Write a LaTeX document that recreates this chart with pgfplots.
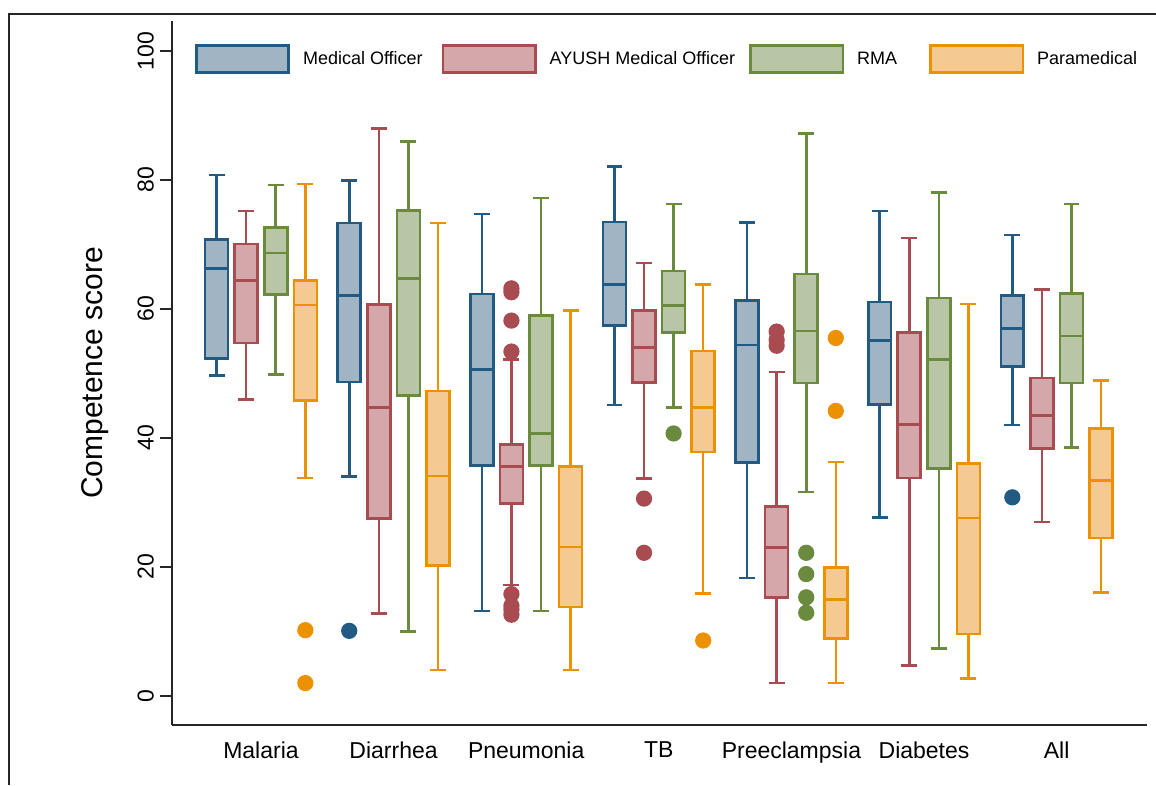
\documentclass[border=0pt]{standalone}
\usepackage{fontspec}
\setmainfont{Liberation Sans}
\usepackage{pgfplots}
\pgfplotsset{compat=1.18}
\usepgfplotslibrary{statistics}
\definecolor{moline}{HTML}{215A82}
\definecolor{mofill}{HTML}{A0B4C4}
\definecolor{ayline}{HTML}{A84C52}
\definecolor{ayfill}{HTML}{D4A8AA}
\definecolor{rmline}{HTML}{6A8A3E}
\definecolor{rmfill}{HTML}{B9C6A6}
\definecolor{paline}{HTML}{EC9200}
\definecolor{pafill}{HTML}{F4C992}
\pgfplotsset{
  boxleg/.style={legend image code/.code={\draw[##1] (0pt,-13.7pt) rectangle (92.4pt,13.7pt);}},
  mo/.style={draw=moline, fill=mofill, line width=2.6pt, mark=*, mark size=6.8pt, mark options={fill=moline, draw=none}},
  ay/.style={draw=ayline, fill=ayfill, line width=2.6pt, mark=*, mark size=6.8pt, mark options={fill=ayline, draw=none}},
  rm/.style={draw=rmline, fill=rmfill, line width=2.6pt, mark=*, mark size=6.8pt, mark options={fill=rmline, draw=none}},
  pa/.style={draw=paline, fill=pafill, line width=2.6pt, mark=*, mark size=6.8pt, mark options={fill=paline, draw=none}},
}
\newcommand{\bx}[7]{%
  \addplot[#1, forget plot, boxplot prepared={draw direction=y, draw position=#2, lower whisker=#3, lower quartile=#4, median=#5, upper quartile=#6, upper whisker=#7}] coordinates {};}
\begin{document}
\begin{tikzpicture}
\useasboundingbox (0pt,0pt) rectangle (1156pt,785pt);
\draw[line width=1.8pt, black!85] (9.3pt,0pt) -- (9.3pt,771.3pt) -- (1160pt,771.3pt);
\begin{axis}[
  at={(172pt,60pt)}, anchor=south west,
  scale only axis, width=974.7pt, height=704pt,
  xmin=0.329, xmax=7.679, ymin=-4.5, ymax=104.65,
  axis x line=bottom, axis y line=left,
  axis line style={-, line width=1.5pt, black!85},
  xtick={1,2,3,4,5,6,7},
  xticklabels={Malaria,Diarrhea,Pneumonia,TB,Preeclampsia,Diabetes,All},
  xtick style={draw=none},
  ytick={0,20,40,60,80,100},
  ytick style={line width=1.5pt, black!85},
  tick align=outside, major tick length=12pt,
  /pgf/number format/assume math mode=true,
  yticklabel shift=6pt,
  yticklabel style={rotate=90, anchor=south, inner sep=0pt, font=\fontsize{23}{26}\selectfont},
  xticklabel style={anchor=north, inner sep=0pt, yshift=-4.5pt, font=\fontsize{23}{26}\selectfont},
  ylabel={Competence score},
  ylabel style={at={(axis description cs:-0.079,0.5)}, anchor=center, inner sep=0pt, font=\fontsize{30}{34}\selectfont},
  boxplot/draw direction=y,
  boxplot/box extend=0.173,
  boxplot/whisker extend=0.12,
  boxplot/every whisker/.append style={line width=2.6pt},
  boxplot/every median/.append style={line width=2.6pt},
  boxplot/every box/.append style={line width=2.6pt},
  legend columns=4,
  legend style={at={(axis description cs:0.0236,0.946)}, anchor=west, draw=none, fill=none, inner sep=0pt, outer sep=0pt,
    font=\fontsize{18}{20}\selectfont, nodes={inner sep=0pt},
    /tikz/every odd column/.append style={column sep=13pt},
    /tikz/column 2/.append style={column sep=19pt},
    /tikz/column 4/.append style={column sep=14pt},
    /tikz/column 6/.append style={column sep=32pt}},
  legend cell align=left,
]
\addlegendimage{mo, boxleg}\addlegendentry{Medical Officer}
\addlegendimage{ay, boxleg}\addlegendentry{AYUSH Medical Officer}
\addlegendimage{rm, boxleg}\addlegendentry{RMA}
\addlegendimage{pa, boxleg}\addlegendentry{Paramedical}
% Malaria
\bx{mo}{0.6655}{49.7}{52.3}{66.3}{70.8}{80.8}
\bx{ay}{0.8885}{46.0}{54.7}{64.4}{70.1}{75.2}
\bx{rm}{1.1115}{49.8}{62.2}{68.7}{72.6}{79.2}
\addplot[pa, forget plot, boxplot prepared={draw direction=y, draw position=1.3345, lower whisker=33.8, lower quartile=45.8, median=60.6, upper quartile=64.4, upper whisker=79.4}] table[row sep=\\, y index=0] {data\\ 10.2\\ 2.0\\};
% Diarrhea
\addplot[mo, forget plot, boxplot prepared={draw direction=y, draw position=1.6655, lower whisker=34.0, lower quartile=48.7, median=62.1, upper quartile=73.3, upper whisker=79.9}] table[row sep=\\, y index=0] {data\\ 10.1\\};
\bx{ay}{1.8885}{12.8}{27.5}{44.7}{60.7}{88.0}
\bx{rm}{2.1115}{10.0}{46.6}{64.7}{75.3}{86.0}
\bx{pa}{2.3345}{4.0}{20.2}{34.1}{47.3}{73.3}
% Pneumonia
\bx{mo}{2.6655}{13.2}{35.7}{50.6}{62.3}{74.7}
\addplot[ay, forget plot, boxplot prepared={draw direction=y, draw position=2.8885, lower whisker=17.2, lower quartile=29.8, median=35.6, upper quartile=39.0, upper whisker=52.2}] table[row sep=\\, y index=0] {data\\ 63.2\\ 62.6\\ 58.2\\ 53.4\\ 15.8\\ 14.0\\ 13.4\\ 12.6\\};
\bx{rm}{3.1115}{13.2}{35.7}{40.7}{59.0}{77.2}
\bx{pa}{3.3345}{4.0}{13.8}{23.1}{35.6}{59.8}
% TB
\bx{mo}{3.6655}{45.1}{57.4}{63.8}{73.5}{82.1}
\addplot[ay, forget plot, boxplot prepared={draw direction=y, draw position=3.8885, lower whisker=33.7, lower quartile=48.6, median=54.0, upper quartile=59.8, upper whisker=67.1}] table[row sep=\\, y index=0] {data\\ 30.6\\ 22.2\\};
\addplot[rm, forget plot, boxplot prepared={draw direction=y, draw position=4.1115, lower whisker=44.7, lower quartile=56.4, median=60.5, upper quartile=65.9, upper whisker=76.3}] table[row sep=\\, y index=0] {data\\ 40.7\\};
\addplot[pa, forget plot, boxplot prepared={draw direction=y, draw position=4.3345, lower whisker=15.9, lower quartile=37.8, median=44.7, upper quartile=53.5, upper whisker=63.8}] table[row sep=\\, y index=0] {data\\ 8.6\\};
% Preeclampsia
\bx{mo}{4.6655}{18.3}{36.2}{54.4}{61.3}{73.4}
\addplot[ay, forget plot, boxplot prepared={draw direction=y, draw position=4.8885, lower whisker=2.0, lower quartile=15.3, median=23.0, upper quartile=29.4, upper whisker=50.2}] table[row sep=\\, y index=0] {data\\ 56.5\\ 55.2\\ 54.3\\};
\addplot[rm, forget plot, boxplot prepared={draw direction=y, draw position=5.1115, lower whisker=31.6, lower quartile=48.5, median=56.6, upper quartile=65.4, upper whisker=87.2}] table[row sep=\\, y index=0] {data\\ 22.2\\ 18.9\\ 15.3\\ 12.9\\};
\addplot[pa, forget plot, boxplot prepared={draw direction=y, draw position=5.3345, lower whisker=2.0, lower quartile=8.9, median=15.0, upper quartile=19.9, upper whisker=36.3}] table[row sep=\\, y index=0] {data\\ 55.5\\ 44.2\\};
% Diabetes
\bx{mo}{5.6655}{27.7}{45.2}{55.1}{61.1}{75.2}
\bx{ay}{5.8885}{4.7}{33.8}{42.1}{56.4}{71.0}
\bx{rm}{6.1115}{7.4}{35.3}{52.2}{61.7}{78.1}
\bx{pa}{6.3345}{2.7}{9.6}{27.6}{36.0}{60.8}
% All
\addplot[mo, forget plot, boxplot prepared={draw direction=y, draw position=6.6655, lower whisker=42.0, lower quartile=51.1, median=57.0, upper quartile=62.1, upper whisker=71.5}] table[row sep=\\, y index=0] {data\\ 30.8\\};
\bx{ay}{6.8885}{27.0}{38.4}{43.5}{49.3}{63.0}
\bx{rm}{7.1115}{38.5}{48.5}{55.8}{62.4}{76.3}
\bx{pa}{7.3345}{16.0}{24.5}{33.4}{41.5}{48.9}
\end{axis}
\end{tikzpicture}
\end{document}
